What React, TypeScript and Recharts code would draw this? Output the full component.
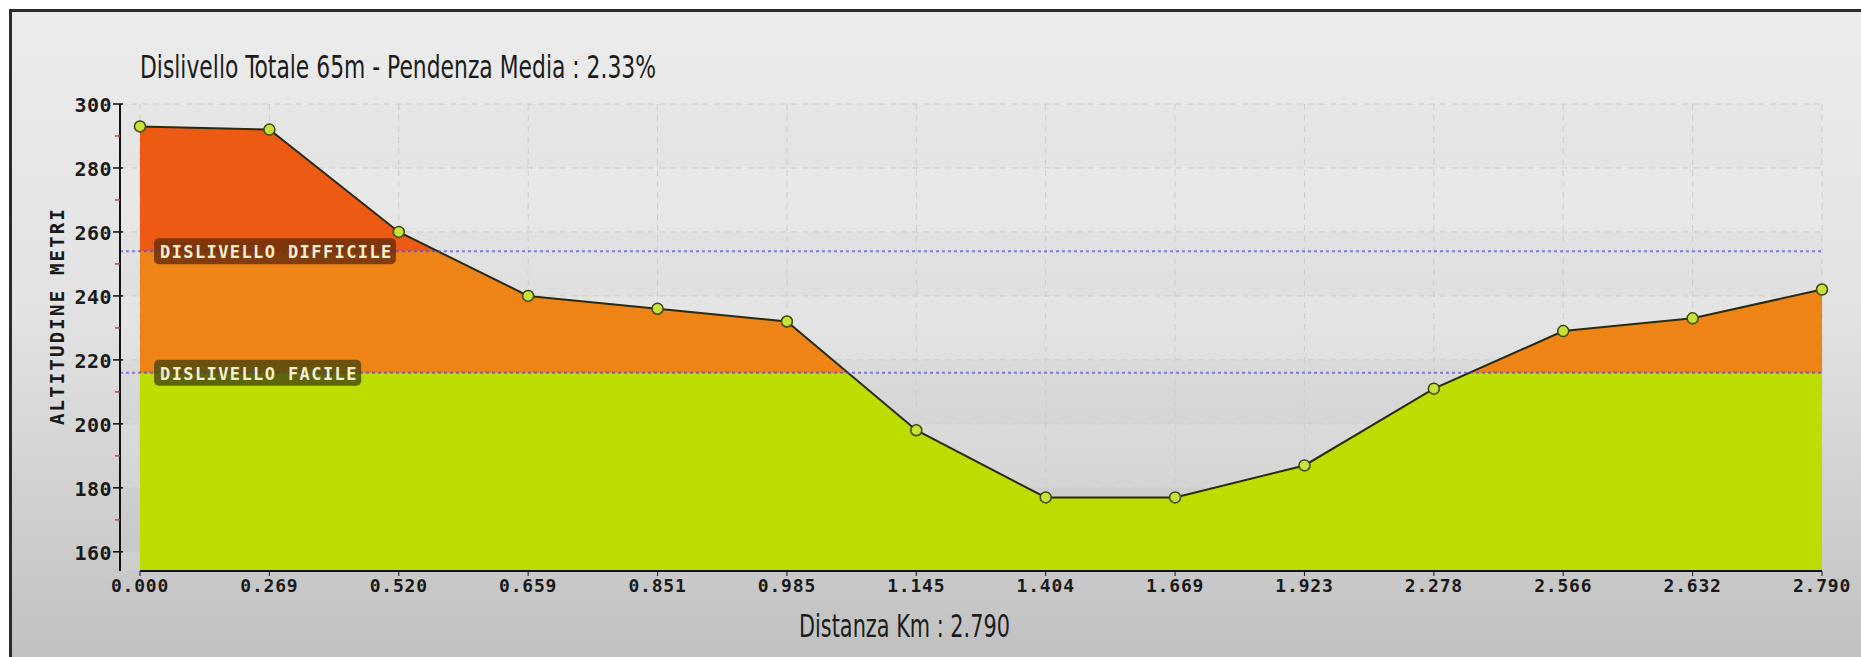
import React from 'react';
import { AreaChart, Area, XAxis, YAxis, CartesianGrid, ReferenceLine } from 'recharts';

const distances = ['0.000', '0.269', '0.520', '0.659', '0.851', '0.985', '1.145', '1.404', '1.669', '1.923', '2.278', '2.566', '2.632', '2.790'];
const altitudes = [293, 292, 260, 240, 236, 232, 198, 177, 177, 187, 211, 229, 233, 242];
const yTicks = [160, 170, 180, 190, 200, 210, 220, 230, 240, 250, 260, 270, 280, 290, 300];
const yGridValues = [160, 180, 200, 220, 240, 260, 280, 300];
const yDomain: [number, number] = [154, 300];
const thresholdDifficile = 254;
const thresholdFacile = 216;
const labelDifficile = 'DISLIVELLO DIFFICILE';
const labelFacile = 'DISLIVELLO FACILE';
const titleText = 'Dislivello Totale 65m - Pendenza Media : 2.33%';
const xTitleText = 'Distanza Km : 2.790';
const yTitleText = 'ALTITUDINE METRI';

const data = distances.map((km, i) => ({ km, alt: altitudes[i] }));

const W = 1861;
const H = 657;
const PIXEL_FONT = '"DejaVu Sans Mono", monospace';
const NARROW_FONT = '"Liberation Sans Narrow", "DejaVu Sans Condensed", "Roboto Condensed", sans-serif';

const top = Math.max(...altitudes);
const bottom = yDomain[0];
const offDiff = (top - thresholdDifficile) / (top - bottom);
const offFac = (top - thresholdFacile) / (top - bottom);

const YTick = (props: any) => {
  const { x, y, payload } = props;
  const major = payload.value % 20 === 0;
  if (!major) {
    return <line x1={x + 3} x2={x + 8} y1={y} y2={y} stroke="#d43a3a" strokeWidth={1.5} />;
  }
  return (
    <g>
      <line x1={x + 1} x2={x + 11} y1={y} y2={y} stroke="#111" strokeWidth={1.5} />
      <text x={x} y={y + 1} textAnchor="end" dominantBaseline="central" fontFamily={PIXEL_FONT} fontWeight="bold" fontSize={20} letterSpacing={0.5} fill="#1a1a1a">
        {payload.value}
      </text>
    </g>
  );
};

const BoxLabel = (props: any) => {
  const { viewBox, text, bg } = props;
  if (!viewBox) return null;
  const { x, y } = viewBox;
  const w = text.length * 11.6 + 10;
  return (
    <g>
      <rect x={x + 34} y={y - 13} width={w} height={26} rx={5} ry={5} fill={bg} />
      <text x={x + 40} y={y + 1} dominantBaseline="central" fontFamily={PIXEL_FONT} fontWeight="bold" fontSize={17} letterSpacing={1.4} fill="#f7efcf">
        {text}
      </text>
    </g>
  );
};

export default function App() {
  return (
    <div style={{ position: 'fixed', left: 0, top: 0, width: W, height: H, overflow: 'hidden', background: '#ffffff' }}>
      <div
        style={{
          position: 'absolute',
          left: 9,
          top: 9,
          width: W + 20,
          height: H + 20,
          borderTop: '3px solid #2b2b2b',
          borderLeft: '3px solid #2b2b2b',
          background: 'linear-gradient(to bottom, #ececec 0%, #e2e2e2 45%, #cbcbcb 80%, #bdbdbd 100%)',
        }}
      />
      <div style={{ position: 'absolute', left: 0, top: 0 }}>
        <AreaChart width={W} height={H} data={data} margin={{ top: 104, right: 39, bottom: 56, left: 0 }}>
          <defs>
            <linearGradient id="altFill" x1="0" y1="0" x2="0" y2="1">
              <stop offset={0} stopColor="#ec5a14" />
              <stop offset={offDiff} stopColor="#ec5a14" />
              <stop offset={offDiff} stopColor="#ef8416" />
              <stop offset={offFac} stopColor="#ef8416" />
              <stop offset={offFac} stopColor="#bddd00" />
              <stop offset={1} stopColor="#bddd00" />
            </linearGradient>
          </defs>
          <CartesianGrid
            stroke="#cccccc"
            strokeDasharray="6 5"
            horizontalValues={yGridValues}
            horizontalFill={['rgba(0,0,0,0.012)', 'rgba(255,255,255,0.08)']}
          />
          <XAxis
            dataKey="km"
            interval={0}
            padding={{ left: 20, right: 0 }}
            axisLine={false}
            tickLine={{ stroke: '#111' }}
            tickSize={5}
            tickMargin={3}
            tick={{ fill: '#1a1a1a', fontFamily: PIXEL_FONT, fontWeight: 'bold', fontSize: 18, letterSpacing: 0.8 }}
          />
          <YAxis
            type="number"
            domain={yDomain}
            ticks={yTicks}
            interval={0}
            width={120}
            allowDataOverflow
            axisLine={{ stroke: '#111', strokeWidth: 2 }}
            tickLine={false}
            tickSize={6}
            tickMargin={2}
            tick={<YTick />}
          />
          <Area
            type="linear"
            dataKey="alt"
            isAnimationActive={false}
            fill="url(#altFill)"
            fillOpacity={1}
            stroke="#2a2a12"
            strokeWidth={2}
            dot={{ r: 5.5, fill: '#c8e23c', stroke: '#3a4608', strokeWidth: 1.5, fillOpacity: 1 }}
            activeDot={false}
          />
          <ReferenceLine
            segment={[
              { x: distances[0], y: yDomain[0] },
              { x: distances[distances.length - 1], y: yDomain[0] },
            ]}
            stroke="#111"
            strokeWidth={2}
            ifOverflow="visible"
          />
          <ReferenceLine
            y={thresholdDifficile}
            stroke="rgba(70,70,225,0.65)"
            strokeWidth={2}
            strokeDasharray="3 3"
            label={<BoxLabel text={labelDifficile} bg="rgba(105,45,10,0.82)" />}
          />
          <ReferenceLine
            y={thresholdFacile}
            stroke="rgba(70,70,225,0.65)"
            strokeWidth={2}
            strokeDasharray="3 3"
            label={<BoxLabel text={labelFacile} bg="rgba(70,70,12,0.8)" />}
          />
        </AreaChart>
      </div>
      <svg width={W} height={H} style={{ position: 'absolute', left: 0, top: 0, pointerEvents: 'none' }}>
        <text x={140} y={78} fontFamily={NARROW_FONT} fontSize={32} fill="#1c1c1c" textLength={516} lengthAdjust="spacingAndGlyphs">
          {titleText}
        </text>
        <text x={799} y={637} fontFamily={NARROW_FONT} fontSize={32} fill="#1c1c1c" textLength={211} lengthAdjust="spacingAndGlyphs">
          {xTitleText}
        </text>
        <text
          x={0}
          y={0}
          transform="translate(64 316) rotate(-90)"
          textAnchor="middle"
          fontFamily={PIXEL_FONT}
          fontWeight="bold"
          fontSize={19}
          letterSpacing={2.2}
          fill="#1a1a1a"
        >
          {yTitleText}
        </text>
      </svg>
    </div>
  );
}
